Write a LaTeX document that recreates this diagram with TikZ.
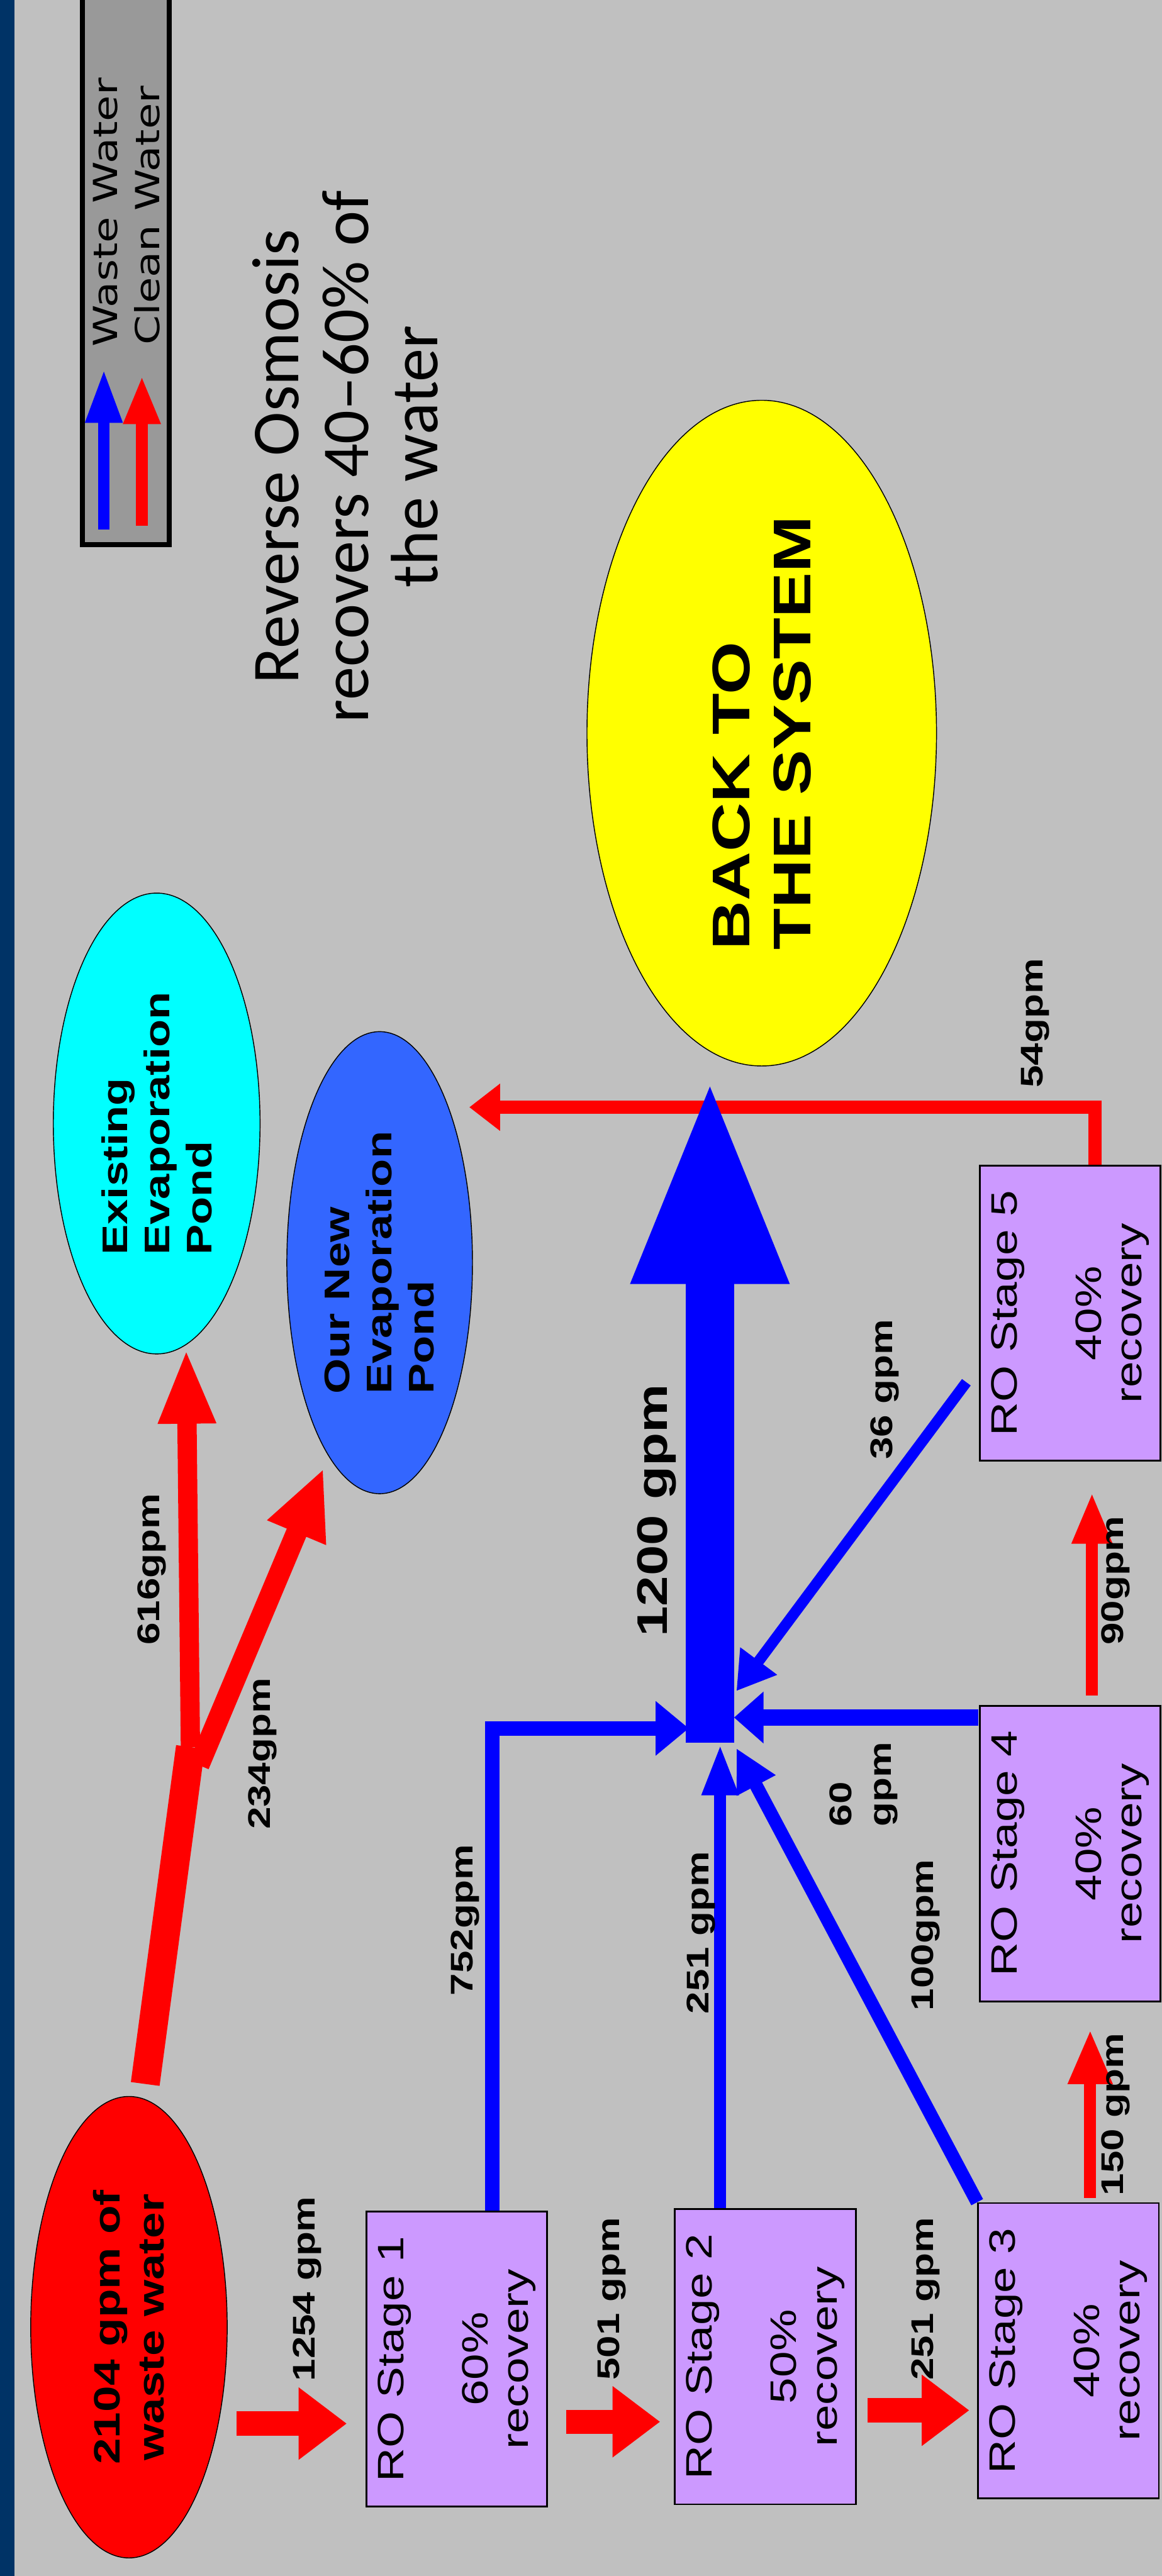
\documentclass[tikz,border=0pt]{standalone}
\usepackage{fontspec}
\setmainfont{Liberation Sans}[FakeStretch=1.28]
\newfontfamily\titlefont{Carlito}
\newfontfamily\legendfont{DejaVu Sans}[FakeStretch=1.28]
\usetikzlibrary{shapes.geometric, arrows.meta, calc}

\definecolor{slidegray}{HTML}{C0C0C0}
\definecolor{slidenavy}{HTML}{003366}
\definecolor{keygray}{HTML}{999999}
\definecolor{stagefill}{HTML}{CC99FF}
\definecolor{flowred}{HTML}{FF0000}
\definecolor{flowblue}{HTML}{0000FF}
\definecolor{oldpondcol}{HTML}{00FFFF}
\definecolor{newpondcol}{HTML}{3366FF}
\definecolor{sysyellow}{HTML}{FFFF00}

\tikzset{
  redpipe/.style={draw=flowred, line width=#1},
  bluepipe/.style={draw=flowblue, line width=#1},
  flowtip/.style 2 args={>={Triangle[length=#1,width=#2]}, ->},
  stagebox/.style={draw=black, line width=3pt, fill=stagefill, inner sep=0pt,
    minimum width=490pt, minimum height=300pt, align=center,
    font=\fontsize{61}{67}\selectfont},
  pond/.style={ellipse, draw=black, line width=1.5pt, inner sep=0pt, align=left,
    font=\bfseries\fontsize{59}{70}\selectfont},
  flowlbl/.style={anchor=base west, inner sep=0pt, font=\bfseries\fontsize{52}{66}\selectfont},
  keylbl/.style={anchor=base west, inner sep=0pt, font=\legendfont\fontsize{55}{70}\selectfont}
}

\begin{document}
\begin{tikzpicture}[x=1pt, y=1pt]
\begin{scope}[rotate=90, transform shape]
  \useasboundingbox (0,0) rectangle (4276,1928);
  \clip (0,0) rectangle (4276,1928);

  % Slide background
  \fill[slidegray] (0,0) rectangle (4276,1928);
  \fill[slidenavy] (0,1904) rectangle (4276,1928);

  % Legend
  \draw[line width=8pt, fill=keygray] (3372,1647) rectangle (4290,1791);
  \node[keylbl] (wastekey) at (3700,1733) {Waste Water};
  \node[keylbl] (cleankey) at (3703,1663) {Clean Water};
  \draw[bluepipe=19pt, flowtip={89pt}{57pt}] ($(wastekey.west)+(-303,3)$) -- ($(wastekey.west)+(-37,3)$);
  \draw[bluepipe=19pt, draw=flowred, flowtip={80pt}{57pt}] ($(cleankey.west)+(-300,9)$) -- ($(cleankey.west)+(-51,9)$);

  % Title
  \node[font=\titlefont\fontsize{111}{115}\selectfont, align=center] (title) at (3518,1355)
    {Reverse Osmosis\\recovers 40–60\% of\\the water};

  % Sources and sinks
  \node[pond, fill=flowred, minimum width=766pt, minimum height=326pt, align=center,
    font=\bfseries\fontsize{61}{73}\selectfont] (waste) at (413,1714) {2104 gpm of\\waste water};
  \node[pond, fill=oldpondcol, minimum width=765pt, minimum height=343pt] (expond) at (2411,1668) {Existing\\Evaporation\\Pond};
  \node[pond, fill=newpondcol, minimum width=767pt, minimum height=308pt] (ourpond) at (2180,1298) {Our New\\Evaporation\\Pond};
  \node[pond, fill=sysyellow, minimum width=1105pt, minimum height=580pt,
    font=\bfseries\fontsize{88}{101}\selectfont] (backsys) at (3059,664) {BACK TO\\THE SYSTEM};

  % RO stages
  \node[stagebox] (st1) at (360,1170) {RO Stage 1\\[73pt]60\%\\recovery};
  \node[stagebox] (st2) at (364,658) {RO Stage 2\\[73pt]50\%\\recovery};
  \node[stagebox] (st3) at (374,155) {RO Stage 3\\[73pt]40\%\\recovery};
  \node[stagebox] (st4) at (1199,152) {RO Stage 4\\[73pt]40\%\\recovery};
  \node[stagebox] (st5) at (2096,152) {RO Stage 5\\[73pt]40\%\\recovery};

  % Waste water through the stages
  \draw[redpipe=40pt, flowtip={80pt}{115pt}] ($(waste.south)+(-160,-15)$) -- ($(st1.north)+(-107,31)$);
  \draw[redpipe=40pt, flowtip={79pt}{113pt}] ($(st1.south)+(-104,-30)$) -- ($(st2.north)+(-108,23)$);
  \draw[redpipe=40pt, flowtip={79pt}{113pt}] ($(st2.south)+(-89,-18)$) -- ($(st3.north)+(-99,13)$);
  \draw[redpipe=20pt, flowtip={90pt}{69pt}] ($(st3.east)+(7,-36)$) -- ($(st4.west)+(-46,-33)$);
  \draw[redpipe=20pt, flowtip={85pt}{62pt}] ($(st4.east)+(16,-36)$) -- ($(st5.west)+(-51,-36)$);
  \draw[redpipe=22pt, flowtip={51pt}{75pt}] ($(st5.east)+(0,-41)$) -| ($(ourpond.south)+(258,6)$);

  % Waste water to the ponds
  \coordinate (split) at (1376,1612);
  \draw[redpipe=48pt] ($(waste.east)+(20,-27)$) -- (split);
  \draw[redpipe=32pt, flowtip={125pt}{87pt}] (split) -- ($(expond.west)+(10,-49)$);
  \draw[redpipe=35pt, flowtip={116pt}{97pt}] ($(split)+(-30,-14)$) -- ($(ourpond.west)+(43,93)$);

  % Clean water collected and sent back
  \coordinate (hub) at (1383,750);
  \draw[bluepipe=80pt, flowtip={343pt}{238pt}] (hub) -- ($(backsys.west)+(-18,86)$);
  \draw[bluepipe=24pt, flowtip={55pt}{87pt}] ($(st1.east)+(0,-59)$) -| ($(hub)+(24,35)$);
  \draw[bluepipe=20pt, flowtip={85pt}{56pt}] ($(st2.east)+(0,75)$) -- ($(hub)+(-2,-17)$);
  \draw[bluepipe=22pt, flowtip={70pt}{68pt}] (st3.north east) -- ($(hub)+(-9,-44)$);
  \draw[bluepipe=28pt, flowtip={49pt}{83pt}] ($(st4.north)+(226,1)$) -- ($(hub)+(42,-40)$);
  \draw[bluepipe=18pt, flowtip={62pt}{72pt}] ($(st5.north west)+(132,21)$) -- ($(hub)+(86,-44)$);

  % Flow rates
  \node[flowlbl] (l1254) at (323,1405) {1254 gpm};
  \node[flowlbl] (l501) at (325,900) {501 gpm};
  \node[flowlbl] (l251a) at (325,379) {251 gpm};
  \node[flowlbl] (l150) at (631,64) {150 gpm};
  \node[flowlbl] (l90) at (1545,64) {90gpm};
  \node[flowlbl] (l54) at (2470,198) {54gpm};
  \node[flowlbl] (l36) at (1853,447) {36 gpm};
  \node[flowlbl] (l100) at (938,379) {100gpm};
  \node[flowlbl] (l251b) at (933,752) {251 gpm};
  \node[flowlbl] (l752) at (963,1143) {752gpm};
  \node[flowlbl] (l616) at (1545,1663) {616gpm};
  \node[flowlbl] (l234) at (1239,1480) {234gpm};
  \node[flowlbl, font=\bfseries\fontsize{71}{80}\selectfont] (l1200) at (1559,821) {1200 gpm};
  \node[flowlbl, anchor=north west, align=left] (l60) at (1244,552) {60\\gpm};
\end{scope}
\end{tikzpicture}
\end{document}
